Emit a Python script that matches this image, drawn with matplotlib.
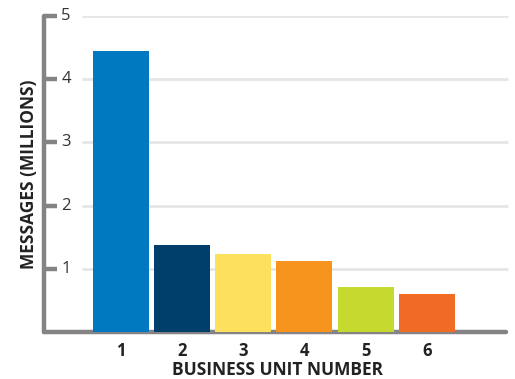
import matplotlib
matplotlib.use("Agg")
import matplotlib.pyplot as plt

# Data
units = [1, 2, 3, 4, 5, 6]
messages = [4.45, 1.37, 1.24, 1.12, 0.71, 0.60]
bar_colors = ["#0079C1", "#003F6B", "#FDE15E", "#F7941E", "#C5D92E", "#F26B24"]
y_ticks = [1, 2, 3, 4, 5]

plt.rcParams["font.family"] = ["Open Sans", "DejaVu Sans"]

axis_grey = "#848486"

fig = plt.figure(figsize=(5.15, 3.79), dpi=100)
ax = fig.add_axes([0.0854, 0.124, 0.905, 0.834])

ax.bar(units, messages, width=0.915, color=bar_colors, zorder=3)

ax.set_xlim(-0.258, 7.36)
ax.set_ylim(0, 5)

# light grid lines, starting right of the tick labels
ax.hlines(y_ticks, 0.36, 7.32, color="#e6e6e6", linewidth=2, zorder=1)

for s in ["top", "right"]:
    ax.spines[s].set_visible(False)
for s in ["left", "bottom"]:
    ax.spines[s].set_color(axis_grey)
    ax.spines[s].set_linewidth(3.2)
    ax.spines[s].set_capstyle("round")
ax.spines["left"].set_bounds(0, 5)
ax.spines["bottom"].set_bounds(-0.258, 7.3)

ax.set_yticks(y_ticks)
ax.set_yticklabels([])
ax.tick_params(axis="y", direction="in", length=9, width=3.2, color=axis_grey)
for v in y_ticks:
    ax.text(0.037, v, str(v), transform=ax.get_yaxis_transform(), ha="left",
            va="center", fontsize=12, color="#333333")

ax.set_xticks(units)
ax.set_xticklabels([str(u) for u in units], fontsize=12, fontweight="bold",
                   color="#222222")
ax.tick_params(axis="x", length=0, pad=7)

ax.set_xlabel("BUSINESS UNIT NUMBER", fontsize=12.5, fontweight="bold",
              color="#222222", labelpad=1)
ax.set_ylabel("MESSAGES (MILLIONS)", fontsize=12.5, fontweight="bold",
              color="#222222", labelpad=0.5)

fig.savefig("out.png", dpi=100)
